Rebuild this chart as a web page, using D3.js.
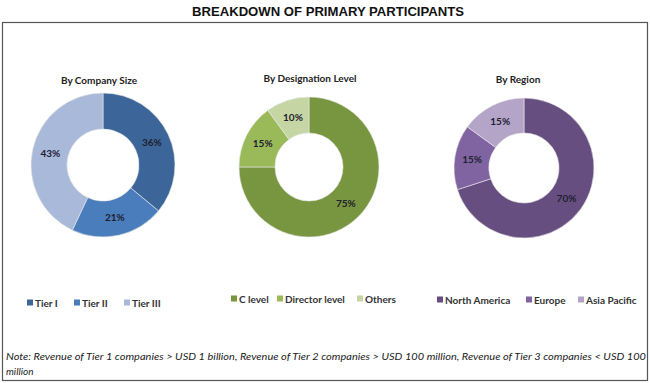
<!DOCTYPE html>
<html>
<head>
<meta charset="utf-8">
<script src="https://cdn.jsdelivr.net/npm/d3@7"></script>
<style>
  html, body { margin: 0; padding: 0; background: #fff; }
  svg { display: block; }
</style>
</head>
<body>
<svg id="chart" width="650" height="383"></svg>
<script>
// ---- data ----
const chartTitle = "BREAKDOWN OF PRIMARY PARTICIPANTS";
const companyTitle = "By Company Size";
const companyCategories = ["Tier I", "Tier II", "Tier III"];
const companyValues = [36, 21, 43];

const designationTitle = "By Designation Level";
const designationCategories = ["C level", "Director level", "Others"];
const designationValues = [75, 15, 10];

const regionTitle = "By Region";
const regionCategories = ["North America", "Europe", "Asia Pacific"];
const regionValues = [70, 15, 15];

const noteText = "Note: Revenue of Tier 1 companies > USD 1 billion, Revenue of Tier 2 companies > USD 100 million, Revenue of Tier 3 companies < USD 100";
const noteText2 = "million";

// ---- styles ----
const companyColors = ["#3c6699", "#4a7dbb", "#a8b9d9"];
const designationColors = ["#77963f", "#9aba5a", "#c5d6a4"];
const regionColors = ["#664e80", "#8064a2", "#b4a5c8"];

const svg = d3.select("#chart");
const labelFont = "Lato, 'Open Sans', sans-serif";

// Border box
svg.append("rect")
  .attr("x", 2.5).attr("y", 22.5)
  .attr("width", 645).attr("height", 358)
  .attr("fill", "none").attr("stroke", "#555").attr("stroke-width", 1.2);

// Title
svg.append("text")
  .attr("x", 328).attr("y", 16)
  .attr("text-anchor", "middle")
  .attr("font-family", "'Liberation Sans Narrow', 'Arial Narrow', sans-serif")
  .attr("font-weight", "bold")
  .attr("font-size", 13)
  .attr("fill", "#111")
  .attr("textLength", 272)
  .attr("lengthAdjust", "spacingAndGlyphs")
  .text(chartTitle);

function donut(cfg) {
  const g = svg.append("g").attr("transform", `translate(${cfg.cx},${cfg.cy})`);
  const pie = d3.pie().sort(null).value(d => d.v);
  const data = cfg.cats.map((c, i) => ({ c, v: cfg.vals[i], color: cfg.colors[i] }));
  const arcs = pie(data);
  const arc = d3.arc().innerRadius(cfg.r).outerRadius(cfg.R);
  const total = d3.sum(cfg.vals);

  g.selectAll("path").data(arcs).join("path")
    .attr("d", arc)
    .attr("fill", d => d.data.color)
    .attr("stroke", "#e8e8e8")
    .attr("stroke-width", 0.6);

  const labelArc = d3.arc().innerRadius((cfg.r + cfg.R) / 2).outerRadius((cfg.r + cfg.R) / 2);
  g.selectAll("text.lbl").data(arcs).join("text")
    .attr("class", "lbl")
    .attr("transform", d => `translate(${labelArc.centroid(d)})`)
    .attr("text-anchor", "middle")
    .attr("dy", "0.35em")
    .attr("font-family", labelFont)
    .attr("font-size", 10)
    .attr("font-weight", "bold")
    .attr("fill", "#1e2030")
    .text(d => Math.round(d.data.v / total * 100) + "%");

  svg.append("text")
    .attr("x", cfg.tx).attr("y", cfg.ty)
    .attr("text-anchor", "middle")
    .attr("font-family", labelFont)
    .attr("font-size", 10)
    .attr("font-weight", "bold")
    .attr("fill", "#222")
    .text(cfg.title);

  // legend
  const lg = svg.append("g");
  cfg.cats.forEach((c, i) => {
    const x = cfg.legendX[i];
    lg.append("rect")
      .attr("x", x).attr("y", cfg.legendY - 3.5)
      .attr("width", 6).attr("height", 6)
      .attr("fill", cfg.colors[i]);
    lg.append("text")
      .attr("x", x + 8).attr("y", cfg.legendY)
      .attr("dy", "0.35em")
      .attr("font-family", labelFont)
      .attr("font-size", 10)
      .attr("font-weight", "bold")
      .attr("fill", "#333")
      .text(c);
  });
}

donut({ cx: 103, cy: 165, R: 72, r: 36, cats: companyCategories, vals: companyValues,
  colors: companyColors, title: companyTitle, tx: 99, ty: 84,
  legendX: [27, 74, 124], legendY: 303 });
donut({ cx: 309, cy: 167, R: 70, r: 34, cats: designationCategories, vals: designationValues,
  colors: designationColors, title: designationTitle, tx: 310, ty: 82,
  legendX: [231, 277, 357], legendY: 299 });
donut({ cx: 524, cy: 168, R: 70, r: 35, cats: regionCategories, vals: regionValues,
  colors: regionColors, title: regionTitle, tx: 518, ty: 83,
  legendX: [437, 526, 578], legendY: 300 });

// Note
svg.append("text")
  .attr("x", 6).attr("y", 360)
  .attr("font-family", labelFont)
  .attr("font-style", "italic")
  .attr("font-size", 10)
  .attr("fill", "#222")
  .attr("textLength", 640)
  .attr("lengthAdjust", "spacingAndGlyphs")
  .text(noteText);
svg.append("text")
  .attr("x", 6).attr("y", 375)
  .attr("font-family", labelFont)
  .attr("font-style", "italic")
  .attr("font-size", 10)
  .attr("fill", "#222")
  .text(noteText2);
</script>
</body>
</html>
